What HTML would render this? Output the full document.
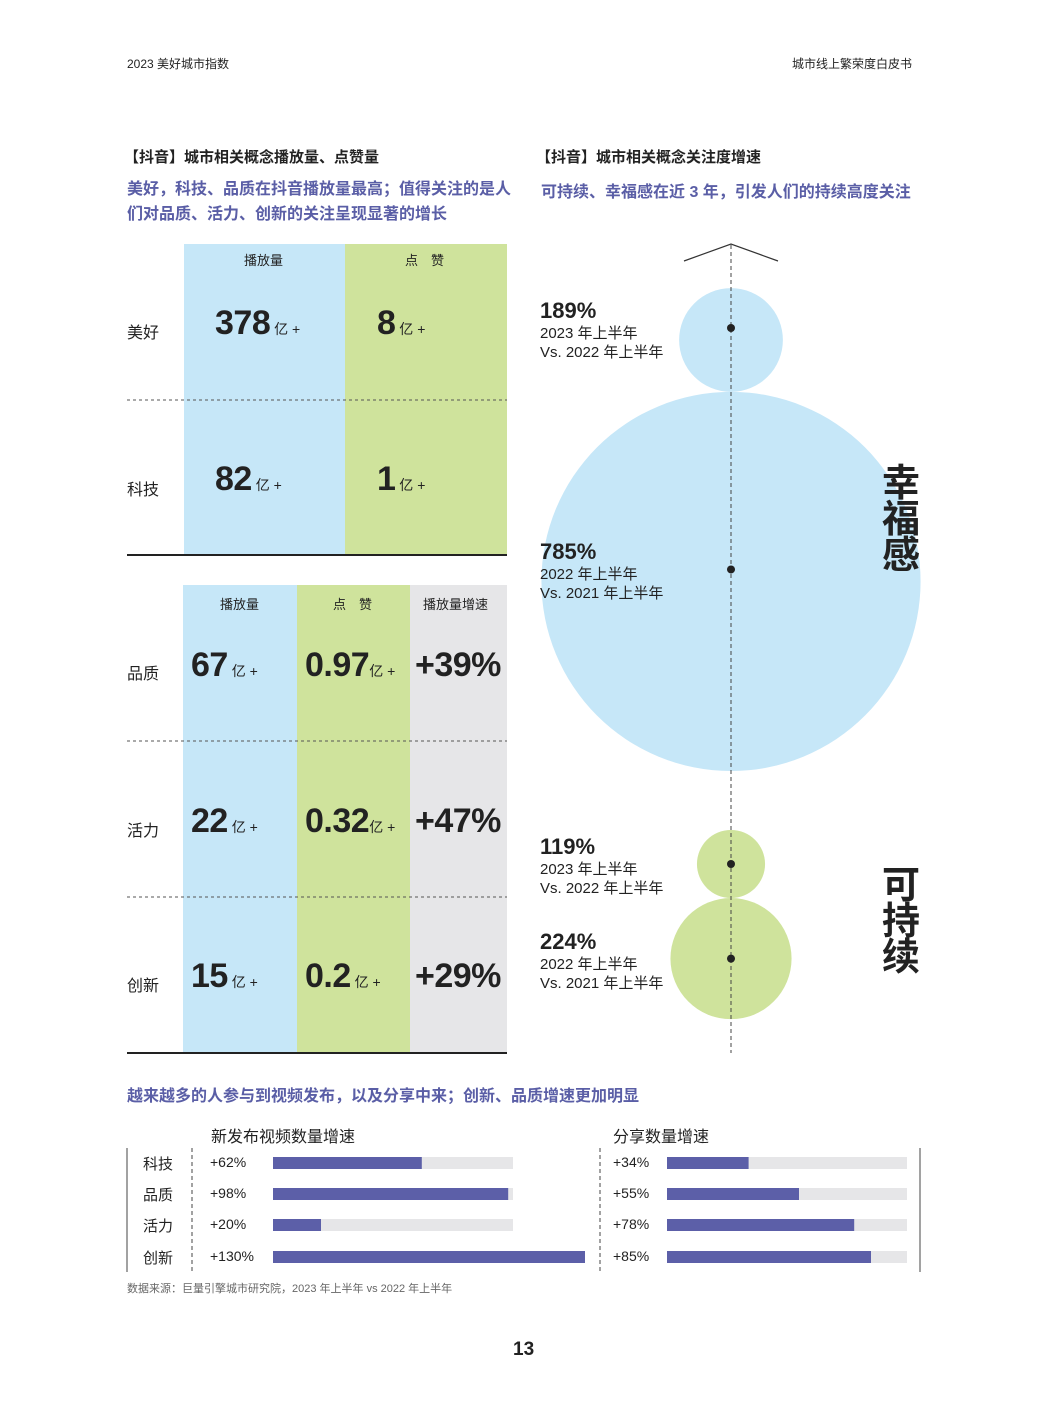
<!DOCTYPE html>
<html><head><meta charset="utf-8"><style>
body{margin:0;width:1048px;height:1417px;background:#fff;position:relative;font-family:"Liberation Sans","Noto Sans CJK SC",sans-serif;color:#222;overflow:hidden}
.a{position:absolute;white-space:nowrap}
.b{font-weight:bold}
.pur{color:#5a5ea6}
.num{font-weight:bold;font-size:34px;color:#222;letter-spacing:-0.5px}
.u{font-size:14px;font-weight:normal;letter-spacing:0}
</style></head><body>
<div class="a" style="left:127px;top:55px;font-size:12px">2023 美好城市指数</div>
<div class="a" style="left:792px;top:55px;font-size:12px">城市线上繁荣度白皮书</div>

<div class="a b" style="left:124px;top:146px;font-size:15px">【抖音】城市相关概念播放量、点赞量</div>
<div class="a b pur" style="left:127px;top:177px;font-size:16px;line-height:25px">美好，科技、品质在抖音播放量最高；值得关注的是人<br>们对品质、活力、创新的关注呈现显著的增长</div>

<svg class="a" style="left:0;top:0" width="1048" height="1417">
<rect x="184" y="244" width="161" height="311" fill="#c6e7f8"/>
<rect x="345" y="244" width="162" height="311" fill="#cfe39c"/>
<line x1="127" y1="400" x2="507" y2="400" stroke="#555" stroke-dasharray="3,3"/>
<line x1="127" y1="555" x2="507" y2="555" stroke="#222" stroke-width="2"/>
<rect x="183" y="585" width="114" height="468" fill="#c6e7f8"/>
<rect x="297" y="585" width="113" height="468" fill="#cfe39c"/>
<rect x="410" y="585" width="97" height="468" fill="#e6e6e8"/>
<line x1="127" y1="741" x2="507" y2="741" stroke="#555" stroke-dasharray="3,3"/>
<line x1="127" y1="897" x2="507" y2="897" stroke="#555" stroke-dasharray="3,3"/>
<line x1="127" y1="1053" x2="507" y2="1053" stroke="#222" stroke-width="2"/>
<g id="bubbles"></g>
<line x1="731" y1="245" x2="731" y2="1053" stroke="#444" stroke-dasharray="4,3"/>
<polyline points="684,261 731,244 778,261" fill="none" stroke="#333" stroke-width="1.2"/>
<line x1="127" y1="1148" x2="127" y2="1272" stroke="#444"/>
<line x1="192" y1="1148" x2="192" y2="1272" stroke="#444" stroke-dasharray="4,3"/>
<line x1="600" y1="1148" x2="600" y2="1272" stroke="#444" stroke-dasharray="4,3"/>
<line x1="920" y1="1148" x2="920" y2="1272" stroke="#444"/>
<g id="bars"></g>
<g id="dots"></g>
</svg>

<div class="a" style="left:244px;top:250px;font-size:13px">播放量</div>
<div class="a" style="left:405px;top:250px;font-size:13px">点　赞</div>
<div class="a" style="left:127px;top:319px;font-size:16px">美好</div>
<div class="a" style="left:127px;top:476px;font-size:16px">科技</div>
<div class="a num" style="left:215px;top:304px">378<span class="u"> 亿 +</span></div>
<div class="a num" style="left:377px;top:304px">8<span class="u"> 亿 +</span></div>
<div class="a num" style="left:215px;top:460px">82<span class="u"> 亿 +</span></div>
<div class="a num" style="left:377px;top:460px">1<span class="u"> 亿 +</span></div>

<div class="a" style="left:220px;top:594px;font-size:13px">播放量</div>
<div class="a" style="left:333px;top:594px;font-size:13px">点　赞</div>
<div class="a" style="left:423px;top:594px;font-size:13px">播放量增速</div>
<div class="a" style="left:127px;top:660px;font-size:16px">品质</div>
<div class="a" style="left:127px;top:817px;font-size:16px">活力</div>
<div class="a" style="left:127px;top:972px;font-size:16px">创新</div>
<div class="a num" style="left:191px;top:646px">67<span class="u"> 亿 +</span></div>
<div class="a num" style="left:305px;top:646px">0.97<span class="u">亿 +</span></div>
<div class="a num" style="left:415px;top:646px">+39%</div>
<div class="a num" style="left:191px;top:802px">22<span class="u"> 亿 +</span></div>
<div class="a num" style="left:305px;top:802px">0.32<span class="u">亿 +</span></div>
<div class="a num" style="left:415px;top:802px">+47%</div>
<div class="a num" style="left:191px;top:957px">15<span class="u"> 亿 +</span></div>
<div class="a num" style="left:305px;top:957px">0.2<span class="u"> 亿 +</span></div>
<div class="a num" style="left:415px;top:957px">+29%</div>

<div class="a b" style="left:536px;top:146px;font-size:15px">【抖音】城市相关概念关注度增速</div>
<div class="a b pur" style="left:541px;top:178px;font-size:16px">可持续、幸福感在近 3 年，引发人们的持续高度关注</div>
<div class="a b" style="left:882px;top:466px;font-size:38px;line-height:36px;width:40px;white-space:normal">幸福感</div>
<div class="a b" style="left:882px;top:868px;font-size:38px;line-height:36px;width:40px;white-space:normal">可持续</div>
<div id="blabels"></div>

<div class="a b pur" style="left:127px;top:1082px;font-size:16px">越来越多的人参与到视频发布，以及分享中来；创新、品质增速更加明显</div>
<div class="a" style="left:211px;top:1123px;font-size:16px">新发布视频数量增速</div>
<div class="a" style="left:613px;top:1123px;font-size:16px">分享数量增速</div>
<div id="barlabels"></div>
<div class="a" style="left:127px;top:1280px;font-size:11px;color:#666">数据来源：巨量引擎城市研究院，2023 年上半年 vs 2022 年上半年</div>
<div class="a b" style="left:513px;top:1339px;font-size:19px">13</div>

<script>
const categories=["科技","品质","活力","创新"];
const videoGrowth=[62,98,20,130];
const shareGrowth=[34,55,78,85];
const bubbleGroups=["幸福感","幸福感","可持续","可持续"];
const bubbleValues=[189,785,119,224];
const bubbleLine1=["2023 年上半年","2022 年上半年","2023 年上半年","2022 年上半年"];
const bubbleLine2=["Vs. 2022 年上半年","Vs. 2021 年上半年","Vs. 2022 年上半年","Vs. 2021 年上半年"];

const NS="http://www.w3.org/2000/svg";
function rScale(v){return 0.44*Math.pow(v,0.91);}
const bg=document.getElementById('bubbles');
const dg=document.getElementById('dots');
const bl=document.getElementById('blabels');
const groupStart={"幸福感":340,"可持续":864};
const dotShift={"幸福感":-12,"可持续":0};
let prev=null;
bubbleValues.forEach((v,i)=>{
  const r=rScale(v);
  let cy;
  if(!prev||prev.g!==bubbleGroups[i]){cy=groupStart[bubbleGroups[i]];}
  else{cy=prev.cy+prev.r+r;}
  prev={g:bubbleGroups[i],cy:cy,r:r};
  const c=document.createElementNS(NS,'circle');
  c.setAttribute('cx',731);c.setAttribute('cy',cy);c.setAttribute('r',r);
  c.setAttribute('fill',bubbleGroups[i]==="幸福感"?"#c6e7f8":"#cfe39c");
  
  
  bg.appendChild(c);
  const dy=cy+dotShift[bubbleGroups[i]];
  const d=document.createElementNS(NS,'circle');
  d.setAttribute('cx',731);d.setAttribute('cy',dy);d.setAttribute('r',4);d.setAttribute('fill','#222');
  
  
  dg.appendChild(d);
  const t=document.createElement('div');
  t.className='a';
  t.style.left='540px';t.style.top=(dy-30)+'px';
  
  
  t.innerHTML='<div style="font-size:22px;font-weight:bold;line-height:26px">'+v+'%</div><div style="font-size:15px;line-height:19px">'+bubbleLine1[i]+'<br>'+bubbleLine2[i]+'</div>';
  bl.appendChild(t);
});

const bars=document.getElementById('bars');
const barL=document.getElementById('barlabels');
const rowY=[1163,1194,1225,1257];
function xLen(v){return v/100*240;}
function drawSet(vals,x0,labelX,track){
  vals.forEach((v,i)=>{
    const y=rowY[i];
    if(track){
      const t=document.createElementNS(NS,'rect');
      t.setAttribute('x',x0);t.setAttribute('y',y-6);t.setAttribute('width',240);t.setAttribute('height',12);t.setAttribute('fill','#e6e6e8');
      
      
      bars.appendChild(t);
    }
    const b=document.createElementNS(NS,'rect');
    b.setAttribute('x',x0);b.setAttribute('y',y-6);b.setAttribute('width',xLen(v));b.setAttribute('height',12);b.setAttribute('fill','#5c5fa8');
    
    
    bars.appendChild(b);
    const l=document.createElement('div');
    l.className='a';l.style.left=labelX+'px';l.style.top=(y-9)+'px';l.style.fontSize='14px';
    l.textContent='+'+v+'%';
    
    
    barL.appendChild(l);
  });
}
drawSet(videoGrowth,273,210,true);
drawSet(shareGrowth,667,613,true);
categories.forEach((c,i)=>{
  const l=document.createElement('div');
  l.className='a';l.style.left='143px';l.style.top=(rowY[i]-10)+'px';l.style.fontSize='15px';
  l.textContent=c;
  
  
  barL.appendChild(l);
});
</script>
</body></html>
